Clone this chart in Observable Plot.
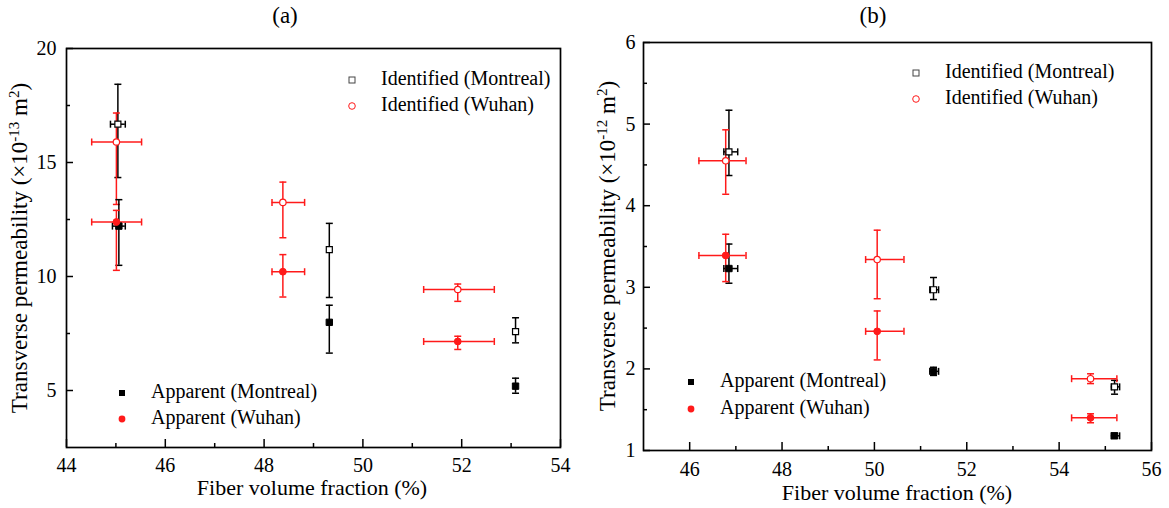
<!DOCTYPE html>
<html><head><meta charset="utf-8">
<script src="https://cdn.jsdelivr.net/npm/d3@7"></script>
<script src="https://cdn.jsdelivr.net/npm/@observablehq/plot@0.6"></script>
<style>
body{margin:0;background:#fff;}
#wrap{position:relative;width:1169px;height:508px;overflow:hidden;background:#fff}
.panel{position:absolute;top:0}
#overlay{position:absolute;left:0;top:0;pointer-events:none}
</style></head><body><div id="wrap"></div>
<script>
// ---------- data (rows: [x, xLow, xHigh, y, yLow, yHigh]) ----------
const seriesNames = ["Identified (Montreal)", "Identified (Wuhan)", "Apparent (Montreal)", "Apparent (Wuhan)"];

// Panel (a) : permeability in 1e-13 m^2
const aIdentifiedMontreal = [
  [45.04, 44.89, 45.19, 16.68, 14.34, 18.43],
  [49.32, 49.32, 49.32, 11.18, 9.08, 12.33],
  [53.09, 53.09, 53.09, 7.58, 7.09, 8.19]
];
const aIdentifiedWuhan = [
  [45.01, 44.51, 45.52, 15.90, 13.16, 17.17],
  [48.38, 48.16, 48.82, 13.25, 11.70, 14.14],
  [51.92, 51.23, 52.66, 9.43, 8.91, 9.67]
];
const aApparentMontreal = [
  [45.06, 44.93, 45.19, 12.21, 10.49, 13.37],
  [49.32, 49.32, 49.32, 7.99, 6.64, 8.74],
  [53.09, 53.09, 53.09, 5.19, 4.88, 5.54]
];
const aApparentWuhan = [
  [45.01, 44.51, 45.52, 12.39, 10.27, 12.90],
  [48.38, 48.16, 48.82, 10.21, 9.10, 10.96],
  [51.92, 51.23, 52.66, 7.15, 6.80, 7.38]
];

// Panel (b) : permeability in 1e-12 m^2
const bIdentifiedMontreal = [
  [46.85, 46.74, 47.04, 4.66, 4.37, 5.17],
  [51.28, 51.20, 51.39, 2.97, 2.85, 3.12],
  [55.20, 55.13, 55.31, 1.78, 1.69, 1.86]
];
const bIdentifiedWuhan = [
  [46.78, 46.20, 47.22, 4.55, 4.14, 4.93],
  [50.06, 49.81, 50.64, 3.34, 2.86, 3.70],
  [54.68, 54.27, 55.25, 1.88, 1.82, 1.94]
];
const bApparentMontreal = [
  [46.85, 46.74, 47.04, 3.23, 3.05, 3.53],
  [51.28, 51.20, 51.39, 1.97, 1.92, 2.02],
  [55.20, 55.13, 55.31, 1.18, 1.15, 1.21]
];
const bApparentWuhan = [
  [46.78, 46.20, 47.22, 3.39, 3.07, 3.65],
  [50.06, 49.81, 50.64, 2.46, 2.11, 2.71],
  [54.68, 54.27, 55.25, 1.40, 1.34, 1.45]
];

// ticks
const aXMajor = [44, 46, 48, 50, 52, 54];
const aXMinor = [45, 47, 49, 51, 53];
const aYMajor = [5, 10, 15, 20];
const aYMinor = [7.5, 12.5, 17.5];
const bXMajor = [46, 48, 50, 52, 54, 56];
const bXMinor = [47, 49, 51, 53, 55];
const bYMajor = [1, 2, 3, 4, 5, 6];
const bYMinor = [1.5, 2.5, 3.5, 4.5, 5.5];

// ---------- drawing ----------
const serif = "'Liberation Serif','Times New Roman',serif";
const RED = "#ff1a1a";
const capH = {draw(ctx) { ctx.moveTo(-3.5, 0); ctx.lineTo(3.5, 0); }};
const capV = {draw(ctx) { ctx.moveTo(0, -3.5); ctx.lineTo(0, 3.5); }};
const intFmt = d => String(d);

function errorMarks(rows, color) {
  const xr = rows.filter(r => r[2] > r[1]);
  return [
    Plot.ruleX(rows, {x: r => r[0], y1: r => r[4], y2: r => r[5], stroke: color, strokeWidth: 1.5}),
    Plot.dot(rows, {x: r => r[0], y: r => r[4], symbol: capH, stroke: color, strokeWidth: 1.5, r: 3}),
    Plot.dot(rows, {x: r => r[0], y: r => r[5], symbol: capH, stroke: color, strokeWidth: 1.5, r: 3}),
    Plot.ruleY(xr, {y: r => r[3], x1: r => r[1], x2: r => r[2], stroke: color, strokeWidth: 1.5}),
    Plot.dot(xr, {x: r => r[1], y: r => r[3], symbol: capV, stroke: color, strokeWidth: 1.5, r: 3}),
    Plot.dot(xr, {x: r => r[2], y: r => r[3], symbol: capV, stroke: color, strokeWidth: 1.5, r: 3})
  ];
}

function panel(o) {
  const [idM, idW, apM, apW] = o.series;
  return Plot.plot({
    width: o.width, height: 508,
    marginLeft: o.ml, marginRight: o.mr, marginTop: o.mt, marginBottom: o.mb,
    style: {fontFamily: serif, fontSize: "20px", color: "#000", background: "transparent"},
    x: {domain: o.xDomain},
    y: {domain: o.yDomain},
    marks: [
      Plot.axisX(o.xMajor, {tickSize: -8, tickPadding: o.xPad, tickFormat: intFmt, label: null, strokeWidth: 1.5}),
      Plot.axisX(o.xMinor, {tickSize: -4, tickFormat: () => "", label: null, strokeWidth: 1.5}),
      Plot.axisY(o.yMajor, {tickSize: -7, tickPadding: o.yPad, tickFormat: intFmt, label: null, strokeWidth: 1.5}),
      Plot.axisY(o.yMinor, {tickSize: -4, tickFormat: () => "", label: null, strokeWidth: 1.5}),
      ...errorMarks(idM, "#000"),
      ...errorMarks(idW, RED),
      ...errorMarks(apM, "#000"),
      ...errorMarks(apW, RED),
      Plot.dot(idM, {x: r => r[0], y: r => r[3], symbol: "square", r: 3.4, fill: "#fff", stroke: "#000", strokeWidth: 1.2}),
      Plot.dot(idW, {x: r => r[0], y: r => r[3], symbol: "circle", r: 3.2, fill: "#fff", stroke: RED, strokeWidth: 1.2}),
      Plot.dot(apM, {x: r => r[0], y: r => r[3], symbol: "square", r: 3.6, fill: "#000", stroke: "#000", strokeWidth: 1}),
      Plot.dot(apW, {x: r => r[0], y: r => r[3], symbol: "circle", r: 3.4, fill: RED, stroke: RED, strokeWidth: 1}),
      Plot.frame({stroke: "#000", strokeWidth: 1.7})
    ]
  });
}

const wrap = document.getElementById("wrap");

const pa = panel({
  width: 585, ml: 66, mr: 25, mt: 48, mb: 61, xPad: 18, yPad: 17,
  xDomain: [44, 54], yDomain: [2.5, 20],
  xMajor: aXMajor, xMinor: aXMinor, yMajor: aYMajor, yMinor: aYMinor,
  series: [aIdentifiedMontreal, aIdentifiedWuhan, aApparentMontreal, aApparentWuhan]
});
pa.classList.add("panel"); pa.style.left = "0px";
wrap.appendChild(pa);

const pb = panel({
  width: 584, ml: 58, mr: 18, mt: 42, mb: 58, xPad: 19, yPad: 15,
  xDomain: [45, 56], yDomain: [1, 6],
  xMajor: bXMajor, xMinor: bXMinor, yMajor: bYMajor, yMinor: bYMinor,
  series: [bIdentifiedMontreal, bIdentifiedWuhan, bApparentMontreal, bApparentWuhan]
});
pb.classList.add("panel"); pb.style.left = "585px";
wrap.appendChild(pb);

// ---------- overlay: titles, axis titles, legends ----------
const ov = d3.select(wrap).append("svg").attr("id", "overlay")
  .attr("width", 1169).attr("height", 508)
  .style("font-family", serif);

function title(x, y, t) {
  ov.append("text").attr("x", x).attr("y", y).attr("text-anchor", "middle")
    .attr("dominant-baseline", "middle").attr("font-size", 23).text(t);
}
title(285, 18, "(a)");
title(873, 18, "(b)");

function xTitle(x, y) {
  ov.append("text").attr("x", x).attr("y", y).attr("text-anchor", "middle")
    .attr("dominant-baseline", "middle").attr("font-size", 22).text("Fiber volume fraction (%)");
}
xTitle(312, 490);
xTitle(897, 495);

function yTitle(x, y, exp) {
  const t = ov.append("text").attr("transform", `translate(${x},${y}) rotate(-90)`)
    .attr("text-anchor", "middle").attr("font-size", 23);
  t.append("tspan").text("Transverse permeability (\u00d710");
  t.append("tspan").attr("dy", -8).attr("font-size", 15).text(exp);
  t.append("tspan").attr("dy", 8).text(" m");
  t.append("tspan").attr("dy", -8).attr("font-size", 15).text("2");
  t.append("tspan").attr("dy", 8).text(")");
}
yTitle(27, 248, "-13");
yTitle(615, 246, "-12");

function legendItem(x, y, kind, label) {
  const s = 6;
  if (kind === 0) ov.append("rect").attr("x", x - s/2).attr("y", y - s/2).attr("width", s).attr("height", s)
    .attr("fill", "#fff").attr("stroke", "#444").attr("stroke-width", 1);
  if (kind === 1) ov.append("circle").attr("cx", x).attr("cy", y).attr("r", 3.3)
    .attr("fill", "#fff").attr("stroke", RED).attr("stroke-width", 1);
  if (kind === 2) ov.append("rect").attr("x", x - s/2).attr("y", y - s/2).attr("width", s).attr("height", s)
    .attr("fill", "#000");
  if (kind === 3) ov.append("circle").attr("cx", x).attr("cy", y).attr("r", 3.4).attr("fill", RED);
  ov.append("text").attr("x", x + 29).attr("y", y).attr("dominant-baseline", "middle")
    .attr("font-size", 20).text(label);
}
legendItem(352, 80, 0, seriesNames[0]);
legendItem(352, 106, 1, seriesNames[1]);
legendItem(122, 393, 2, seriesNames[2]);
legendItem(122, 419, 3, seriesNames[3]);
legendItem(916, 73, 0, seriesNames[0]);
legendItem(916, 99, 1, seriesNames[1]);
legendItem(691, 382, 2, seriesNames[2]);
legendItem(691, 409, 3, seriesNames[3]);
</script>
</body></html>
